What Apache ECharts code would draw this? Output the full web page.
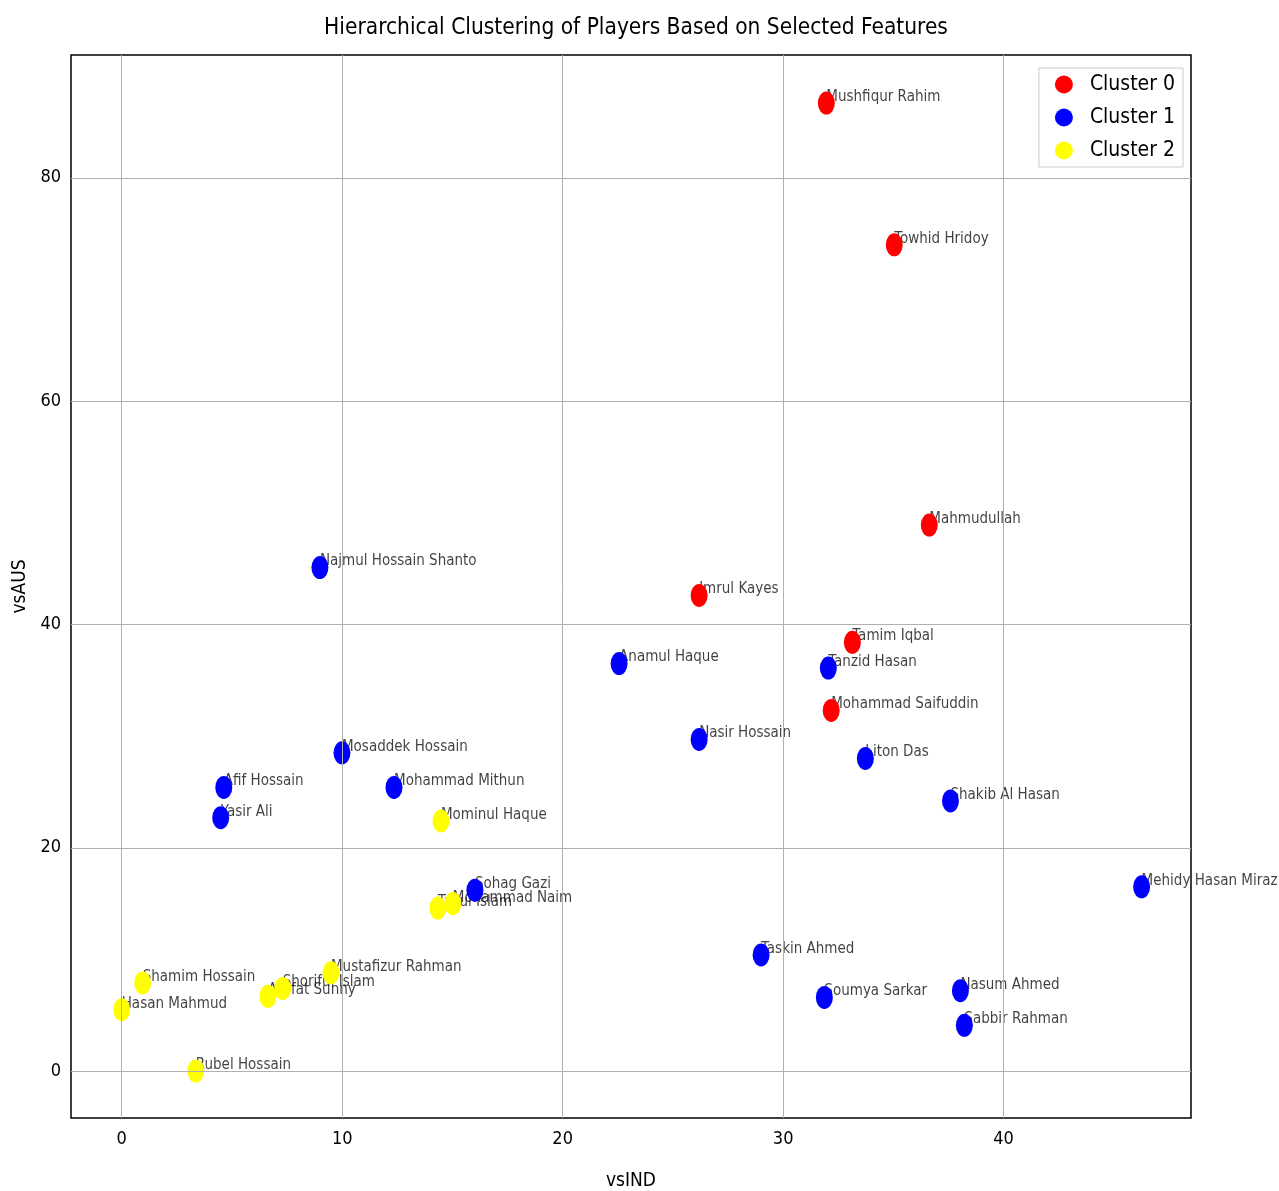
<!DOCTYPE html>
<html><head><meta charset="utf-8">
<script src="https://cdn.jsdelivr.net/npm/echarts@6/dist/echarts.min.js"></script>
<style>html,body{margin:0;padding:0;background:#fff}#c{width:1279px;height:1191px}</style>
</head><body><div id="c"></div>
<script>
// Data
const cluster0Names = ["Mushfiqur Rahim","Towhid Hridoy","Mahmudullah","Imrul Kayes","Tamim Iqbal","Mohammad Saifuddin"];
const cluster0X = [31.96, 35.04, 36.63, 26.19, 33.14, 32.18];
const cluster0Y = [86.7, 74.0, 48.9, 42.6, 38.4, 32.3];

const cluster1Names = ["Najmul Hossain Shanto","Anamul Haque","Tanzid Hasan","Nasir Hossain","Liton Das","Mosaddek Hossain","Afif Hossain","Mohammad Mithun","Yasir Ali","Shakib Al Hasan","Mehidy Hasan Miraz","Sohag Gazi","Taskin Ahmed","Soumya Sarkar","Nasum Ahmed","Sabbir Rahman"];
const cluster1X = [8.99, 22.56, 32.05, 26.19, 33.73, 9.99, 4.63, 12.35, 4.49, 37.59, 46.26, 16.02, 29.0, 31.87, 38.04, 38.22];
const cluster1Y = [45.1, 36.5, 36.1, 29.7, 28.0, 28.5, 25.4, 25.4, 22.7, 24.2, 16.5, 16.2, 10.4, 6.6, 7.2, 4.1];

const cluster2Names = ["Mominul Haque","Mohammad Naim","Taijul Islam","Shamim Hossain","Hasan Mahmud","Arafat Sunny","Shoriful Islam","Mustafizur Rahman","Rubel Hossain"];
const cluster2X = [14.48, 15.02, 14.34, 0.95, 0.0, 6.63, 7.3, 9.49, 3.36];
const cluster2Y = [22.4, 15.0, 14.6, 7.9, 5.5, 6.7, 7.4, 8.8, 0.0];

const xTicks = [0, 10, 20, 30, 40];
const yTicks = [0, 20, 40, 60, 80];
const xRange = [-2.3, 48.5];
const yRange = [-4.2, 91.0];

const FONT = "DejaVu Sans Condensed";
const SYM = [17, 23];
function pts(names, xs, ys){ return names.map((n,i)=>({name:n, value:[xs[i], ys[i]]})); }
function dotSeries(name, color, names, xs, ys){
  return {
    name: name, type: 'scatter', z: 4,
    symbol: 'circle', symbolSize: SYM,
    itemStyle: {color: color, opacity: 1},
    data: pts(names, xs, ys),
    label: {show: false},
    emphasis: {disabled: true}
  };
}
function labelSeries(names, xs, ys){
  return {
    name: 'labels', type: 'scatter', z: 3, silent: true,
    symbol: 'circle', symbolSize: SYM,
    itemStyle: {color: 'rgba(0,0,0,0)'},
    data: pts(names, xs, ys),
    label: {show: true, position: [8.5, -2], align: 'left', verticalAlign: 'top',
      formatter: p => p.name, color: '#111', fontFamily: FONT, fontSize: 15},
    emphasis: {disabled: true}
  };
}

const chart = echarts.init(document.getElementById('c'), null, {renderer: 'canvas'});
chart.setOption({
  animation: false,
  backgroundColor: '#fff',
  title: {text: 'Hierarchical Clustering of Players Based on Selected Features', left: 631, textAlign: 'center', top: 12,
    textStyle: {fontFamily: FONT, fontSize: 22.5, fontWeight: 'normal', color: '#000'}},
  legend: {
    data: ['Cluster 0','Cluster 1','Cluster 2'], orient: 'vertical', right: 96, top: 68,
    itemWidth: 18, itemHeight: 24, itemGap: 12, icon: 'circle',
    backgroundColor: '#fff', borderColor: '#ccc', borderWidth: 1, padding: [6, 8, 6, 16],
    textStyle: {fontFamily: FONT, fontSize: 21, color: '#000', padding: [0, 0, 0, 12]}
  },
  grid: {left: 71, right: 88, top: 55, bottom: 73, show: true, borderColor: '#000', borderWidth: 1.5,
    backgroundColor: 'transparent', outerBoundsMode: 'none', containLabel: false},
  xAxis: {type: 'value', min: xRange[0], max: xRange[1], name: 'vsIND', nameLocation: 'middle', nameGap: 54,
    nameTextStyle: {fontFamily: FONT, fontSize: 19, color: '#000'},
    axisLine: {show: false}, splitLine: {show: false},
    axisTick: {show: true, customValues: xTicks, length: 6, lineStyle: {color: '#000'}},
    axisLabel: {customValues: xTicks, fontFamily: FONT, fontSize: 18, color: '#000', margin: 12}},
  yAxis: {type: 'value', min: yRange[0], max: yRange[1], name: 'vsAUS', nameLocation: 'middle', nameGap: 41,
    nameTextStyle: {fontFamily: FONT, fontSize: 19, color: '#000'},
    axisLine: {show: false}, splitLine: {show: false},
    axisTick: {show: true, customValues: yTicks, length: 6, lineStyle: {color: '#000'}},
    axisLabel: {customValues: yTicks, fontFamily: FONT, fontSize: 18, color: '#000', margin: 10}},
  series: [
    {type: 'scatter', data: [], z: 1, silent: true,
      markLine: {silent: true, symbol: 'none', label: {show: false}, animation: false,
        lineStyle: {color: '#b0b0b0', width: 1, type: 'solid'},
        data: xTicks.map(v => ({xAxis: v})).concat(yTicks.map(v => ({yAxis: v})))}},
    labelSeries(cluster0Names, cluster0X, cluster0Y),
    labelSeries(cluster1Names, cluster1X, cluster1Y),
    labelSeries(cluster2Names, cluster2X, cluster2Y),
    dotSeries('Cluster 0', '#ff0000', cluster0Names, cluster0X, cluster0Y),
    dotSeries('Cluster 1', '#0000ff', cluster1Names, cluster1X, cluster1Y),
    dotSeries('Cluster 2', '#ffff00', cluster2Names, cluster2X, cluster2Y)
  ]
});
</script></body></html>
